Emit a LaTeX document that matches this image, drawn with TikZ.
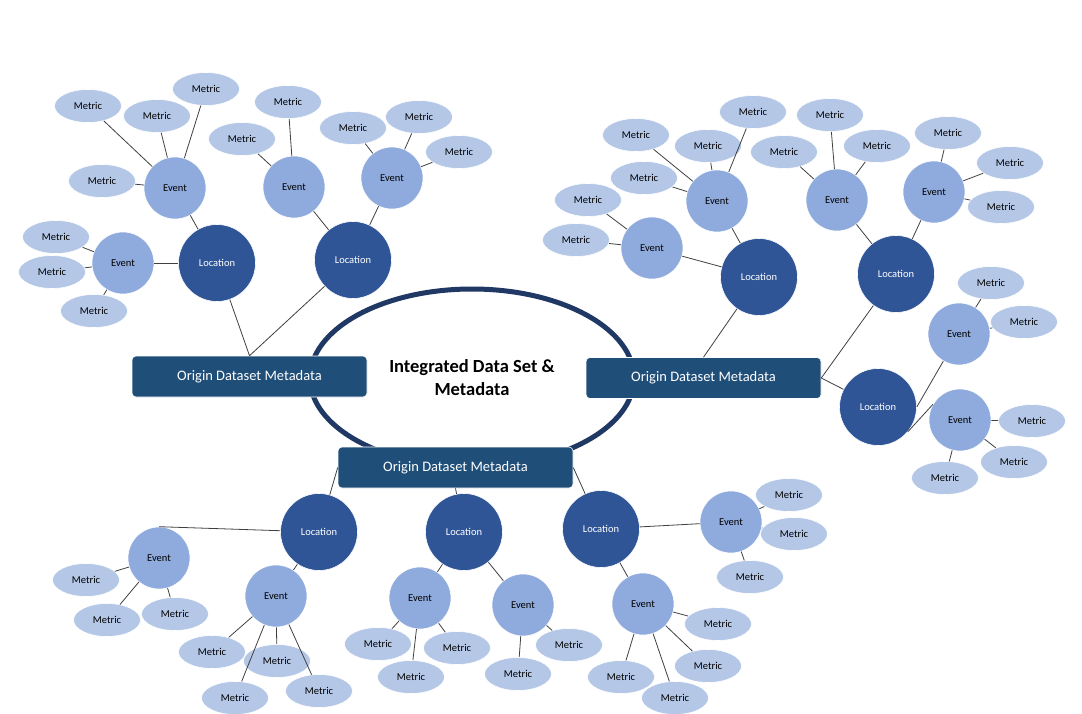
\documentclass[tikz,border=0pt]{standalone}
\usepackage{fontspec}
\setmainfont{Carlito}
\usetikzlibrary{shapes.geometric}
\definecolor{metricblue}{HTML}{B4C7E7}
\definecolor{eventblue}{HTML}{8FAADC}
\definecolor{locblue}{HTML}{2F5597}
\definecolor{originblue}{HTML}{1F4E79}
\definecolor{coreblue}{HTML}{1F3864}
\definecolor{linkgray}{HTML}{404040}
\tikzset{
    location/.style={circle,fill=locblue,draw=white,line width=0.6pt,minimum size=77pt,inner sep=0pt,text=white,font=\fontsize{10.5}{12}\selectfont},
    event/.style={circle,fill=eventblue,draw=white,line width=0.6pt,minimum size=62pt,inner sep=0pt,font=\fontsize{10.5}{12}\selectfont},
    metric/.style={ellipse,fill=metricblue,draw=white,line width=0.6pt,minimum width=67pt,minimum height=33pt,inner sep=0pt,font=\fontsize{10.5}{12}\selectfont},
    origin/.style={rectangle,rounded corners=4pt,fill=originblue,draw=white,line width=0.6pt,minimum width=235pt,minimum height=41pt,text=white,font=\fontsize{14.5}{17}\selectfont}
}

\begin{document}
\begin{tikzpicture}[x=1pt,y=-1pt,every edge/.style={draw=linkgray,line width=0.8pt}]
    \useasboundingbox[fill=white] (0,0) rectangle (1082,714);
    \node[ellipse,draw=coreblue,line width=5pt,minimum width=324pt,minimum height=178pt,align=center,font=\bfseries\fontsize{18.5}{23}\selectfont] (core) at (472,378) {Integrated Data Set \&\\Metadata};
    % left
    \node[origin] (L1) at (249.5,376.5) {Origin Dataset Metadata};
    \node[location] (LA) at (217,263) {Location};
    \node[location] (LB) at (353,260) {Location};
    \node[event] (LAe1) at (175,188) {Event};
    \node[event] (LAe2) at (123,263) {Event};
    \node[event] (LBe1) at (294,187) {Event};
    \node[event] (LBe2) at (392,178) {Event};
    \node[metric] (LAe1m1) at (88,106) {Metric};
    \node[metric] (LAe1m2) at (157,116) {Metric};
    \node[metric] (LAe1m3) at (206,89) {Metric};
    \node[metric] (LAe1m4) at (102,181) {Metric};
    \node[metric] (LAe2m1) at (56,237) {Metric};
    \node[metric] (LAe2m2) at (52,272) {Metric};
    \node[metric] (LAe2m3) at (94,311) {Metric};
    \node[metric] (LBe1m1) at (242,139) {Metric};
    \node[metric] (LBe1m2) at (288,102) {Metric};
    \node[metric] (LBe2m1) at (353,128) {Metric};
    \node[metric] (LBe2m2) at (419,117) {Metric};
    \node[metric] (LBe2m3) at (459,152) {Metric};
    % right
    \node[origin] (R1) at (703.5,378) {Origin Dataset Metadata};
    \node[location] (RA) at (759,277) {Location};
    \node[location] (RB) at (896,274) {Location};
    \node[location] (RC) at (878,407) {Location};
    \node[event] (RAe1) at (717,201) {Event};
    \node[event] (RAe2) at (652,248) {Event};
    \node[event] (RBe1) at (837,200) {Event};
    \node[event] (RBe2) at (934,192) {Event};
    \node[event] (RCe1) at (959,334) {Event};
    \node[event] (RCe2) at (960,420) {Event};
    \node[metric] (RAe1m1) at (636,135) {Metric};
    \node[metric] (RAe1m2) at (708,146) {Metric};
    \node[metric] (RAe1m3) at (753,112) {Metric};
    \node[metric] (RAe1m4) at (644,178) {Metric};
    \node[metric] (RAe2m1) at (588,200) {Metric};
    \node[metric] (RAe2m2) at (576,240) {Metric};
    \node[metric] (RBe1m1) at (784,152) {Metric};
    \node[metric] (RBe1m2) at (830,115) {Metric};
    \node[metric] (RBe1m3) at (877,146) {Metric};
    \node[metric] (RBe2m1) at (948,133) {Metric};
    \node[metric] (RBe2m2) at (1010,163) {Metric};
    \node[metric] (RBe2m3) at (1001,207) {Metric};
    \node[metric] (RCe1m1) at (991,283) {Metric};
    \node[metric] (RCe1m2) at (1024,322) {Metric};
    \node[metric] (RCe2m1) at (1032,421) {Metric};
    \node[metric] (RCe2m2) at (1014,462) {Metric};
    \node[metric] (RCe2m3) at (945,478) {Metric};
    % bottom
    \node[origin] (B1) at (455.5,467.5) {Origin Dataset Metadata};
    \node[location] (BA) at (319,532) {Location};
    \node[location] (BB) at (464,532) {Location};
    \node[location] (BC) at (601,529) {Location};
    \node[event] (BAe1) at (159,558) {Event};
    \node[event] (BAe2) at (276,596) {Event};
    \node[event] (BBe1) at (420,598) {Event};
    \node[event] (BBe2) at (523,605) {Event};
    \node[event] (BCe1) at (731,522) {Event};
    \node[event] (BCe2) at (643,604) {Event};
    \node[metric] (BAe1m1) at (86,580) {Metric};
    \node[metric] (BAe1m2) at (107,620) {Metric};
    \node[metric] (BAe1m3) at (175,614) {Metric};
    \node[metric] (BAe2m1) at (212,652) {Metric};
    \node[metric] (BAe2m2) at (277,661) {Metric};
    \node[metric] (BAe2m3) at (235,698) {Metric};
    \node[metric] (BAe2m4) at (319,691) {Metric};
    \node[metric] (BBe1m1) at (378,644) {Metric};
    \node[metric] (BBe1m2) at (457,648) {Metric};
    \node[metric] (BBe1m3) at (411,677) {Metric};
    \node[metric] (BBe2m1) at (569,645) {Metric};
    \node[metric] (BBe2m2) at (518,674) {Metric};
    \node[metric] (BCe1m1) at (789,495) {Metric};
    \node[metric] (BCe1m2) at (794,534) {Metric};
    \node[metric] (BCe1m3) at (750,577) {Metric};
    \node[metric] (BCe2m1) at (718,624) {Metric};
    \node[metric] (BCe2m2) at (708,666) {Metric};
    \node[metric] (BCe2m3) at (621,677) {Metric};
    \node[metric] (BCe2m4) at (675,698) {Metric};
    \path
        (L1.north) edge (LA)
                   edge (LB)
        (LA)   edge (LAe1)
               edge (LAe2)
        (LB)   edge (LBe1)
               edge (LBe2)
        (LAe1) edge (LAe1m1) edge (LAe1m2) edge (LAe1m3) edge (LAe1m4)
        (LAe2) edge (LAe2m1) edge (LAe2m2) edge (LAe2m3)
        (LBe1) edge (LBe1m1) edge (LBe1m2)
        (LBe2) edge (LBe2m1) edge (LBe2m2) edge (LBe2m3)
        (R1.north) edge (RA)
        (R1.east)  edge (RB)
                   edge (RC)
        (RA)   edge (RAe1)
               edge (RAe2)
        (RB)   edge (RBe1)
               edge (RBe2)
        (RC.east) edge (RCe1)
        (RC.-40)  edge (RCe2.150)
        (RAe1) edge (RAe1m1) edge (RAe1m2) edge (RAe1m3) edge (RAe1m4)
        (RAe2) edge (RAe2m1) edge (RAe2m2)
        (RBe1) edge (RBe1m1) edge (RBe1m2) edge (RBe1m3)
        (RBe2) edge (RBe2m1) edge (RBe2m2) edge (RBe2m3)
        (RCe1) edge (RCe1m1) edge (RCe1m2)
        (RCe2) edge (RCe2m1) edge (RCe2m2) edge (RCe2m3)
        (B1.west)  edge (BA)
        (B1.south) edge (BB)
        (B1.east)  edge (BC)
        (BA)   edge (BAe1.north)
               edge (BAe2)
        (BB)   edge (BBe1)
               edge (BBe2)
        (BC)   edge (BCe1)
               edge (BCe2)
        (BAe1) edge (BAe1m1) edge (BAe1m2) edge (BAe1m3)
        (BAe2) edge (BAe2m1) edge (BAe2m2) edge (BAe2m3) edge (BAe2m4)
        (BBe1) edge (BBe1m1) edge (BBe1m2) edge (BBe1m3)
        (BBe2) edge (BBe2m1) edge (BBe2m2)
        (BCe1) edge (BCe1m1) edge (BCe1m2) edge (BCe1m3)
        (BCe2) edge (BCe2m1) edge (BCe2m2) edge (BCe2m3) edge (BCe2m4)
    ;
\end{tikzpicture}
\end{document}
